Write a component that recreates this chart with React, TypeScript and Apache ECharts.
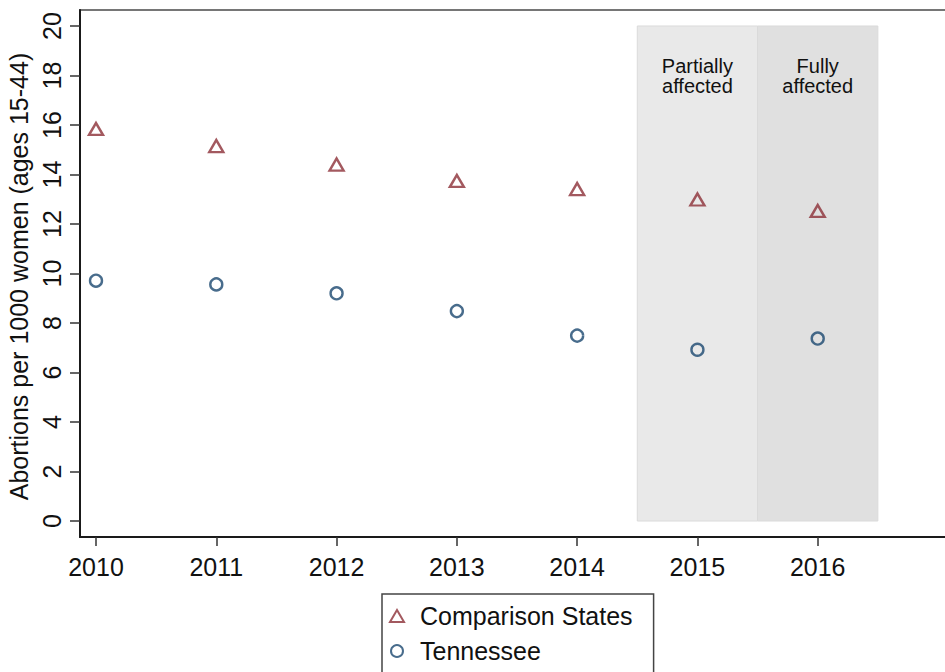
import React, { useEffect, useRef } from "react";
import * as echarts from "echarts";

const years = [2010, 2011, 2012, 2013, 2014, 2015, 2016];
const comparisonStates = [15.84, 15.15, 14.4, 13.74, 13.41, 12.99, 12.53];
const tennessee = [9.71, 9.56, 9.2, 8.48, 7.49, 6.92, 7.37];
const yTicks = [0, 2, 4, 6, 8, 10, 12, 14, 16, 18, 20];
const periods = [
  { label: "Partially\naffected", from: 2014.5, to: 2015.5, color: "#e9e9e9" },
  { label: "Fully\naffected", from: 2015.5, to: 2016.5, color: "#e0e0e0" },
];

const FONT = "'Liberation Sans', Arial, Helvetica, sans-serif";

export default function App() {
  const ref = useRef<HTMLDivElement>(null);
  useEffect(() => {
    if (!ref.current) return;
    const chart = echarts.init(ref.current, null, { renderer: "svg" });
    chart.setOption({
      animation: false,
      backgroundColor: "#ffffff",
      textStyle: { fontFamily: FONT },
      grid: {
        left: 80,
        top: 10,
        width: 874,
        height: 527,
        outerBoundsMode: "none",
        containLabel: false,
        show: true,
        borderColor: "#4a4a4a",
        borderWidth: 1.5,
        backgroundColor: "transparent",
      },
      xAxis: {
        type: "value",
        min: 2009.867,
        max: 2017.133,
        axisLine: { show: true, onZero: false, lineStyle: { color: "#1a1a1a", width: 2 } },
        axisTick: {
          show: true,
          length: 9,
          customValues: years,
          lineStyle: { color: "#333", width: 1.5 },
        },
        axisLabel: {
          customValues: years,
          formatter: (v: number) => String(v),
          fontSize: 25,
          color: "#111",
          margin: 17,
          fontFamily: FONT,
        },
        splitLine: { show: false },
      },
      yAxis: {
        type: "value",
        min: -0.646,
        max: 20.646,
        name: "Abortions per 1000 women (ages 15-44)",
        nameLocation: "middle",
        nameRotate: 90,
        nameGap: 46,
        nameTextStyle: { fontSize: 25, color: "#111", fontFamily: FONT, padding: [0, 6, 0, 0] },
        axisLine: { show: true, onZero: false, lineStyle: { color: "#1a1a1a", width: 2 } },
        axisTick: {
          show: true,
          length: 10,
          customValues: yTicks,
          lineStyle: { color: "#333", width: 1.5 },
        },
        axisLabel: {
          customValues: yTicks,
          formatter: (v: number) => String(v),
          rotate: 90,
          fontSize: 25,
          color: "#111",
          margin: 16,
          fontFamily: FONT,
        },
        splitLine: { show: false },
      },
      legend: {
        data: ["Comparison States", "Tennessee"],
        orient: "vertical",
        left: 382,
        top: 594,
        padding: [8, 21, 16, 7],
        itemGap: 7,
        itemWidth: 14,
        itemHeight: 12,
        borderColor: "#444",
        borderWidth: 1.5,
        backgroundColor: "#fff",
        textStyle: {
          fontSize: 25,
          color: "#111",
          lineHeight: 28,
          padding: [0, 0, 0, 11],
          fontFamily: FONT,
        },
      },
      series: [
        {
          type: "scatter",
          name: "periods",
          data: [],
          z: 1,
          silent: true,
          markArea: {
            silent: true,
            data: periods.map((p) => [
              {
                xAxis: p.from,
                yAxis: 0,
                itemStyle: { color: p.color, borderColor: "#dadada", borderWidth: 1 },
                label: { formatter: p.label },
              },
              { xAxis: p.to, yAxis: 20 },
            ]),
            label: {
              show: true,
              position: "insideTop",
              distance: 31,
              fontSize: 20,
              lineHeight: 20,
              color: "#111",
              fontFamily: FONT,
            },
          },
        },
        {
          type: "scatter",
          name: "Comparison States",
          symbol: "triangle",
          symbolSize: [14, 12],
          z: 3,
          itemStyle: { color: "rgba(0,0,0,0)", borderColor: "#8c2f37", borderWidth: 2.4 },
          data: years.map((y, i) => [y, comparisonStates[i]]),
        },
        {
          type: "scatter",
          name: "Tennessee",
          symbol: "circle",
          symbolSize: 12,
          z: 3,
          itemStyle: { color: "rgba(0,0,0,0)", borderColor: "#1a476f", borderWidth: 2.4 },
          data: years.map((y, i) => [y, tennessee[i]]),
        },
      ],
    });
    return () => chart.dispose();
  }, []);
  return (
    <div
      ref={ref}
      style={{ position: "fixed", left: 0, top: 0, width: 945, height: 700, overflow: "hidden" }}
    />
  );
}
